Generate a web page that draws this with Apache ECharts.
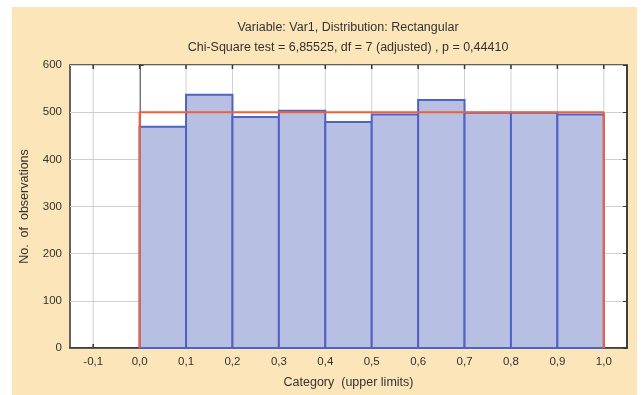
<!DOCTYPE html>
<html>
<head>
<meta charset="utf-8">
<script src="https://cdn.jsdelivr.net/npm/echarts@6/dist/echarts.min.js"></script>
<style>
  html, body { margin: 0; padding: 0; background: #ffffff; }
  #chart { width: 641px; height: 395px; }
</style>
</head>
<body>
<div id="chart"></div>
<script>
// Histogram of Var1 against a rectangular (uniform) distribution
const binUpper = [0.1, 0.2, 0.3, 0.4, 0.5, 0.6, 0.7, 0.8, 0.9, 1.0];
const binWidth = 0.1;
const observed = [469, 537, 490, 503, 479, 495, 526, 499, 499, 495];
const expected = [500, 500, 500, 500, 500, 500, 500, 500, 500, 500];
const xTicks = [-0.1, 0.0, 0.1, 0.2, 0.3, 0.4, 0.5, 0.6, 0.7, 0.8, 0.9, 1.0];
const xTickLabels = ['-0,1', '0,0', '0,1', '0,2', '0,3', '0,4', '0,5', '0,6', '0,7', '0,8', '0,9', '1,0'];
const yTicks = [0, 100, 200, 300, 400, 500, 600];
const titleLine1 = 'Variable: Var1, Distribution: Rectangular';
const titleLine2 = 'Chi-Square test = 6,85525, df = 7 (adjusted) , p = 0,44410';

const FONT = '"Liberation Sans", Arial, sans-serif';
const TEXT = '#333333';

const bars = binUpper.map((u, i) => [u - binWidth, u, observed[i]]);

// expected-frequency outline: up at the first bin, across, down at the last
const expLine = [[binUpper[0] - binWidth, 0]];
binUpper.forEach((u, i) => {
  expLine.push([u - binWidth, expected[i]]);
  expLine.push([u, expected[i]]);
});
expLine.push([binUpper[binUpper.length - 1], 0]);

const chart = echarts.init(document.getElementById('chart'), null, { renderer: 'canvas' });

chart.setOption({
  animation: false,
  backgroundColor: '#ffffff',
  textStyle: { fontFamily: FONT },
  graphic: [
    { type: 'rect', z: -100, shape: { x: 12, y: 7, width: 625, height: 388 },
      style: { fill: '#fce5b8' }, silent: true },
    { type: 'text', x: 348, y: 28, z: 10,
      style: { text: titleLine1, fontFamily: FONT, fontSize: 12.5, fill: TEXT,
               textAlign: 'center', textVerticalAlign: 'middle' } },
    { type: 'text', x: 348, y: 48, z: 10,
      style: { text: titleLine2, fontFamily: FONT, fontSize: 12.5, fill: TEXT,
               textAlign: 'center', textVerticalAlign: 'middle' } }
  ],
  grid: {
    left: 70, top: 65, right: 14, bottom: 47,
    show: true, backgroundColor: '#ffffff', borderColor: '#333333', borderWidth: 1.5
  },
  xAxis: {
    type: 'value', min: -0.15, max: 1.05, interval: 0.05,
    name: 'Category  (upper limits)', nameLocation: 'middle', nameGap: 28,
    nameTextStyle: { fontSize: 12.5, color: TEXT, fontFamily: FONT },
    axisLine: { show: true, onZero: false, lineStyle: { color: '#333333', width: 1.5 } },
    axisTick: { show: false },
    splitLine: { show: false },
    axisLabel: {
      margin: 8, fontSize: 11.5, color: TEXT, fontFamily: FONT,
      formatter: function (v) {
        const k = xTicks.findIndex(t => Math.abs(t - v) < 1e-6);
        return k >= 0 ? xTickLabels[k] : '';
      }
    }
  },
  yAxis: [
    {
      type: 'value', min: yTicks[0], max: yTicks[yTicks.length - 1], interval: 100,
      name: 'No.  of  observations', nameLocation: 'middle', nameGap: 39,
      nameTextStyle: { fontSize: 12.5, color: TEXT, fontFamily: FONT },
      axisLine: { show: true, lineStyle: { color: '#333333', width: 1.5 } },
      axisTick: { show: true, inside: true, length: 4, lineStyle: { color: '#333333' } },
      axisLabel: { margin: 8, fontSize: 11.5, color: TEXT, fontFamily: FONT },
      splitLine: { show: true, lineStyle: { color: '#cfcfcf', width: 1 } }
    },
    {
      type: 'value', position: 'right', min: yTicks[0], max: yTicks[yTicks.length - 1], interval: 100,
      axisLine: { show: true, lineStyle: { color: '#333333', width: 1.5 } },
      axisTick: { show: true, inside: true, length: 4, lineStyle: { color: '#333333' } },
      axisLabel: { show: false },
      splitLine: { show: false }
    }
  ],
  series: [
    {
      // vertical grid lines plus tick marks on the bottom and top frame
      type: 'custom', z: 1, silent: true,
      data: xTicks.map(t => [t]),
      renderItem: function (params, api) {
        const v = api.value(0);
        const b = api.coord([v, yTicks[0]]);
        const t = api.coord([v, yTicks[yTicks.length - 1]]);
        return {
          type: 'group',
          children: [
            { type: 'line', shape: { x1: b[0], y1: b[1], x2: t[0], y2: t[1] },
              style: { stroke: '#cfcfcf', lineWidth: 1 } },
            { type: 'line', z2: 50, shape: { x1: b[0], y1: b[1], x2: b[0], y2: b[1] - 4 },
              style: { stroke: '#333333', lineWidth: 1.5 } },
            { type: 'line', z2: 50, shape: { x1: t[0], y1: t[1], x2: t[0], y2: t[1] + 4 },
              style: { stroke: '#333333', lineWidth: 1.5 } }
          ]
        };
      }
    },
    {
      type: 'custom', z: 2, silent: true,
      data: bars,
      encode: { x: [0, 1], y: 2 },
      renderItem: function (params, api) {
        const p0 = api.coord([api.value(0), api.value(2)]);
        const p1 = api.coord([api.value(1), 0]);
        return {
          type: 'rect',
          shape: { x: p0[0], y: p0[1], width: p1[0] - p0[0], height: p1[1] - p0[1] },
          style: { fill: '#b7bfe3', stroke: '#5062c4', lineWidth: 2 }
        };
      }
    },
    {
      type: 'line', z: 3, silent: true,
      data: expLine,
      symbol: 'none',
      lineStyle: { color: '#ef5f3a', width: 2 }
    }
  ]
});
</script>
</body>
</html>
